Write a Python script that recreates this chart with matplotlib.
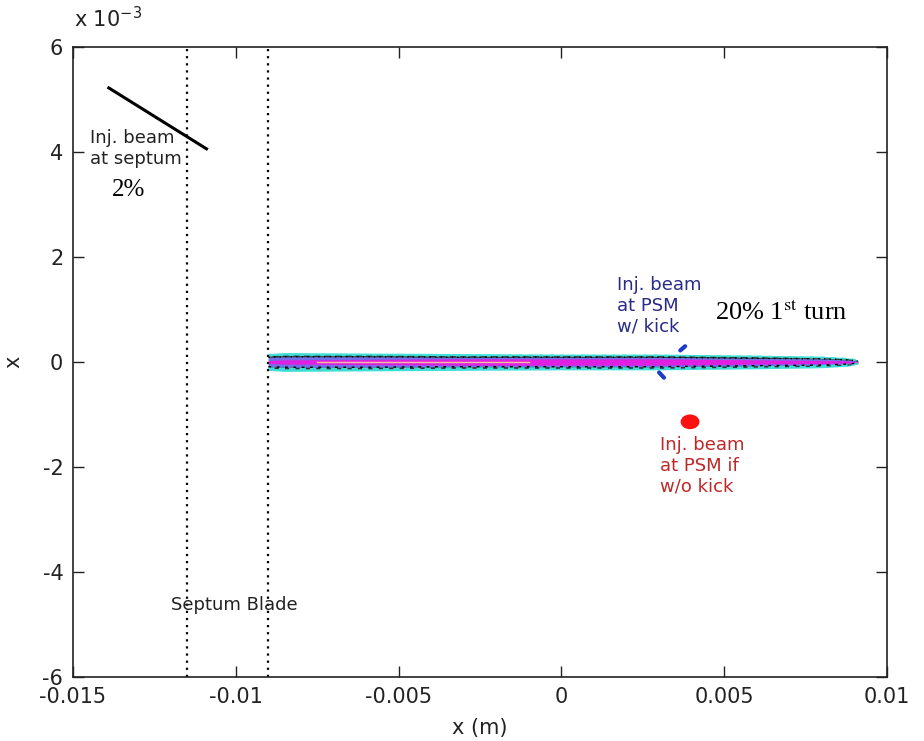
import matplotlib.pyplot as plt
from matplotlib.ticker import FuncFormatter
from matplotlib.patches import Ellipse

plt.rcParams['font.family'] = ['DejaVu Sans']

# septum blade edges (m)
septum_x = [-0.0115, -0.009]

# injected beam at the septum (thin tilted streak)
sept_beam_x = [-0.0139, -0.0109]
sept_beam_y = [5.22e-3, 4.06e-3]

# circulating beam envelope after many turns
band_x = [-0.0090, -0.0085, -0.006, -0.003, 0.0, 0.003, 0.006, 0.0080, 0.0088, 0.0091]
band_cyan = [0.16e-3, 0.18e-3, 0.17e-3, 0.16e-3, 0.15e-3, 0.15e-3, 0.13e-3, 0.11e-3, 0.08e-3, 0.04e-3]
band_black = [0.12e-3, 0.13e-3, 0.13e-3, 0.12e-3, 0.12e-3, 0.12e-3, 0.10e-3, 0.08e-3, 0.06e-3, 0.03e-3]
band_blue = [0.09e-3, 0.10e-3, 0.10e-3, 0.09e-3, 0.09e-3, 0.09e-3, 0.07e-3, 0.06e-3, 0.04e-3, 0.02e-3]
band_magenta = [0.03e-3, 0.04e-3, 0.05e-3, 0.06e-3, 0.06e-3, 0.06e-3, 0.04e-3, 0.03e-3, 0.02e-3, 0.01e-3]

# injected beam at PSM with kick (two small blue marks)
kick_x = [[0.00365, 0.0038], [0.00300, 0.00315]]
kick_y = [[0.22e-3, 0.30e-3], [-0.20e-3, -0.30e-3]]

# injected beam at PSM without kick
nokick_x = 0.00395
nokick_y = -1.14e-3

fig = plt.figure(figsize=(9.24, 7.41), dpi=100)
ax = fig.add_axes([0.079, 0.0864, 0.881, 0.8502])

ax.fill_between(band_x, [-v for v in band_cyan], band_cyan, color='#40e0d8', lw=0)
ax.fill_between(band_x, [-v for v in band_black], band_black, color='#303030', lw=0)
ax.fill_between(band_x, [-v for v in band_blue], band_blue, color='#7070e8', lw=0)
ax.fill_between(band_x, [-v for v in band_magenta], band_magenta, color='#e020e0', lw=0)
ax.plot([-0.0075, -0.001], [0, 0], color='#f0c0a0', lw=1)
ax.plot(band_x, band_black, color='#40e0d8', lw=1.5, ls=(0, (2, 3)))
ax.plot(band_x, [-v for v in band_black], color='#40e0d8', lw=1.5, ls=(0, (3, 2)))
ax.plot(band_x, band_blue, color='black', lw=1, ls=(0, (1, 3)))
ax.plot(band_x, [-v for v in band_blue], color='black', lw=1, ls=(0, (2, 4)))

for xs, ys in zip(kick_x, kick_y):
    ax.plot(xs, ys, color='#1a3cc8', lw=3, solid_capstyle='round')

ax.add_patch(Ellipse((nokick_x, nokick_y), 0.00058, 0.28e-3, color='#ff1010', lw=0))

ax.plot(sept_beam_x, sept_beam_y, color='black', lw=2.2)

for sx in septum_x:
    ax.axvline(sx, color='black', lw=1.6, ls=(0, (1, 2.2)))

ax.set_xlim(-0.015, 0.01)
ax.set_ylim(-6e-3, 6e-3)
ax.set_xticks([-0.015, -0.01, -0.005, 0, 0.005, 0.01])
ax.set_xticklabels(['-0.015', '-0.01', '-0.005', '0', '0.005', '0.01'])
ax.set_yticks([-6e-3, -4e-3, -2e-3, 0, 2e-3, 4e-3, 6e-3])
ax.yaxis.set_major_formatter(FuncFormatter(lambda v, p: f'{v * 1e3:g}'))
ax.tick_params(direction='in', length=8, width=1, top=True, right=True,
               labelsize=15, colors='#222222', pad=7)
for s in ax.spines.values():
    s.set_linewidth(1.2)
    s.set_color('#222222')

ax.set_xlabel('x (m)', fontsize=15, color='#222222', labelpad=8)
ax.set_ylabel('x', fontsize=15, color='#222222', labelpad=14)
fig.text(0.080, 0.958, r'x 10$^{-3}$', fontsize=15, color='#222222', va='bottom')

ax.text(-0.01448, 4.44e-3, 'Inj. beam\nat septum', fontsize=13, color='#222222',
        va='top', linespacing=1.2)
ax.text(-0.0138, 3.28e-3, '2%', fontsize=18, family=['Liberation Serif'], va='center')
ax.text(-0.01199, -4.63e-3, 'Septum Blade', fontsize=13, color='#222222', va='center')
ax.text(0.0017, 1.64e-3, 'Inj. beam\nat PSM\nw/ kick', fontsize=13, color='#2a2a88',
        va='top', linespacing=1.2)
ax.text(0.00472, 0.95e-3, r'20% 1$^{\mathrm{st}}$ turn', fontsize=19,
        family=['Liberation Serif'], va='center', math_fontfamily='stix')
ax.text(0.00303, -1.41e-3, 'Inj. beam\nat PSM if\nw/o kick', fontsize=13, color='#c02828',
        va='top', linespacing=1.2)

fig.savefig('out.png', dpi=100, facecolor='white')
